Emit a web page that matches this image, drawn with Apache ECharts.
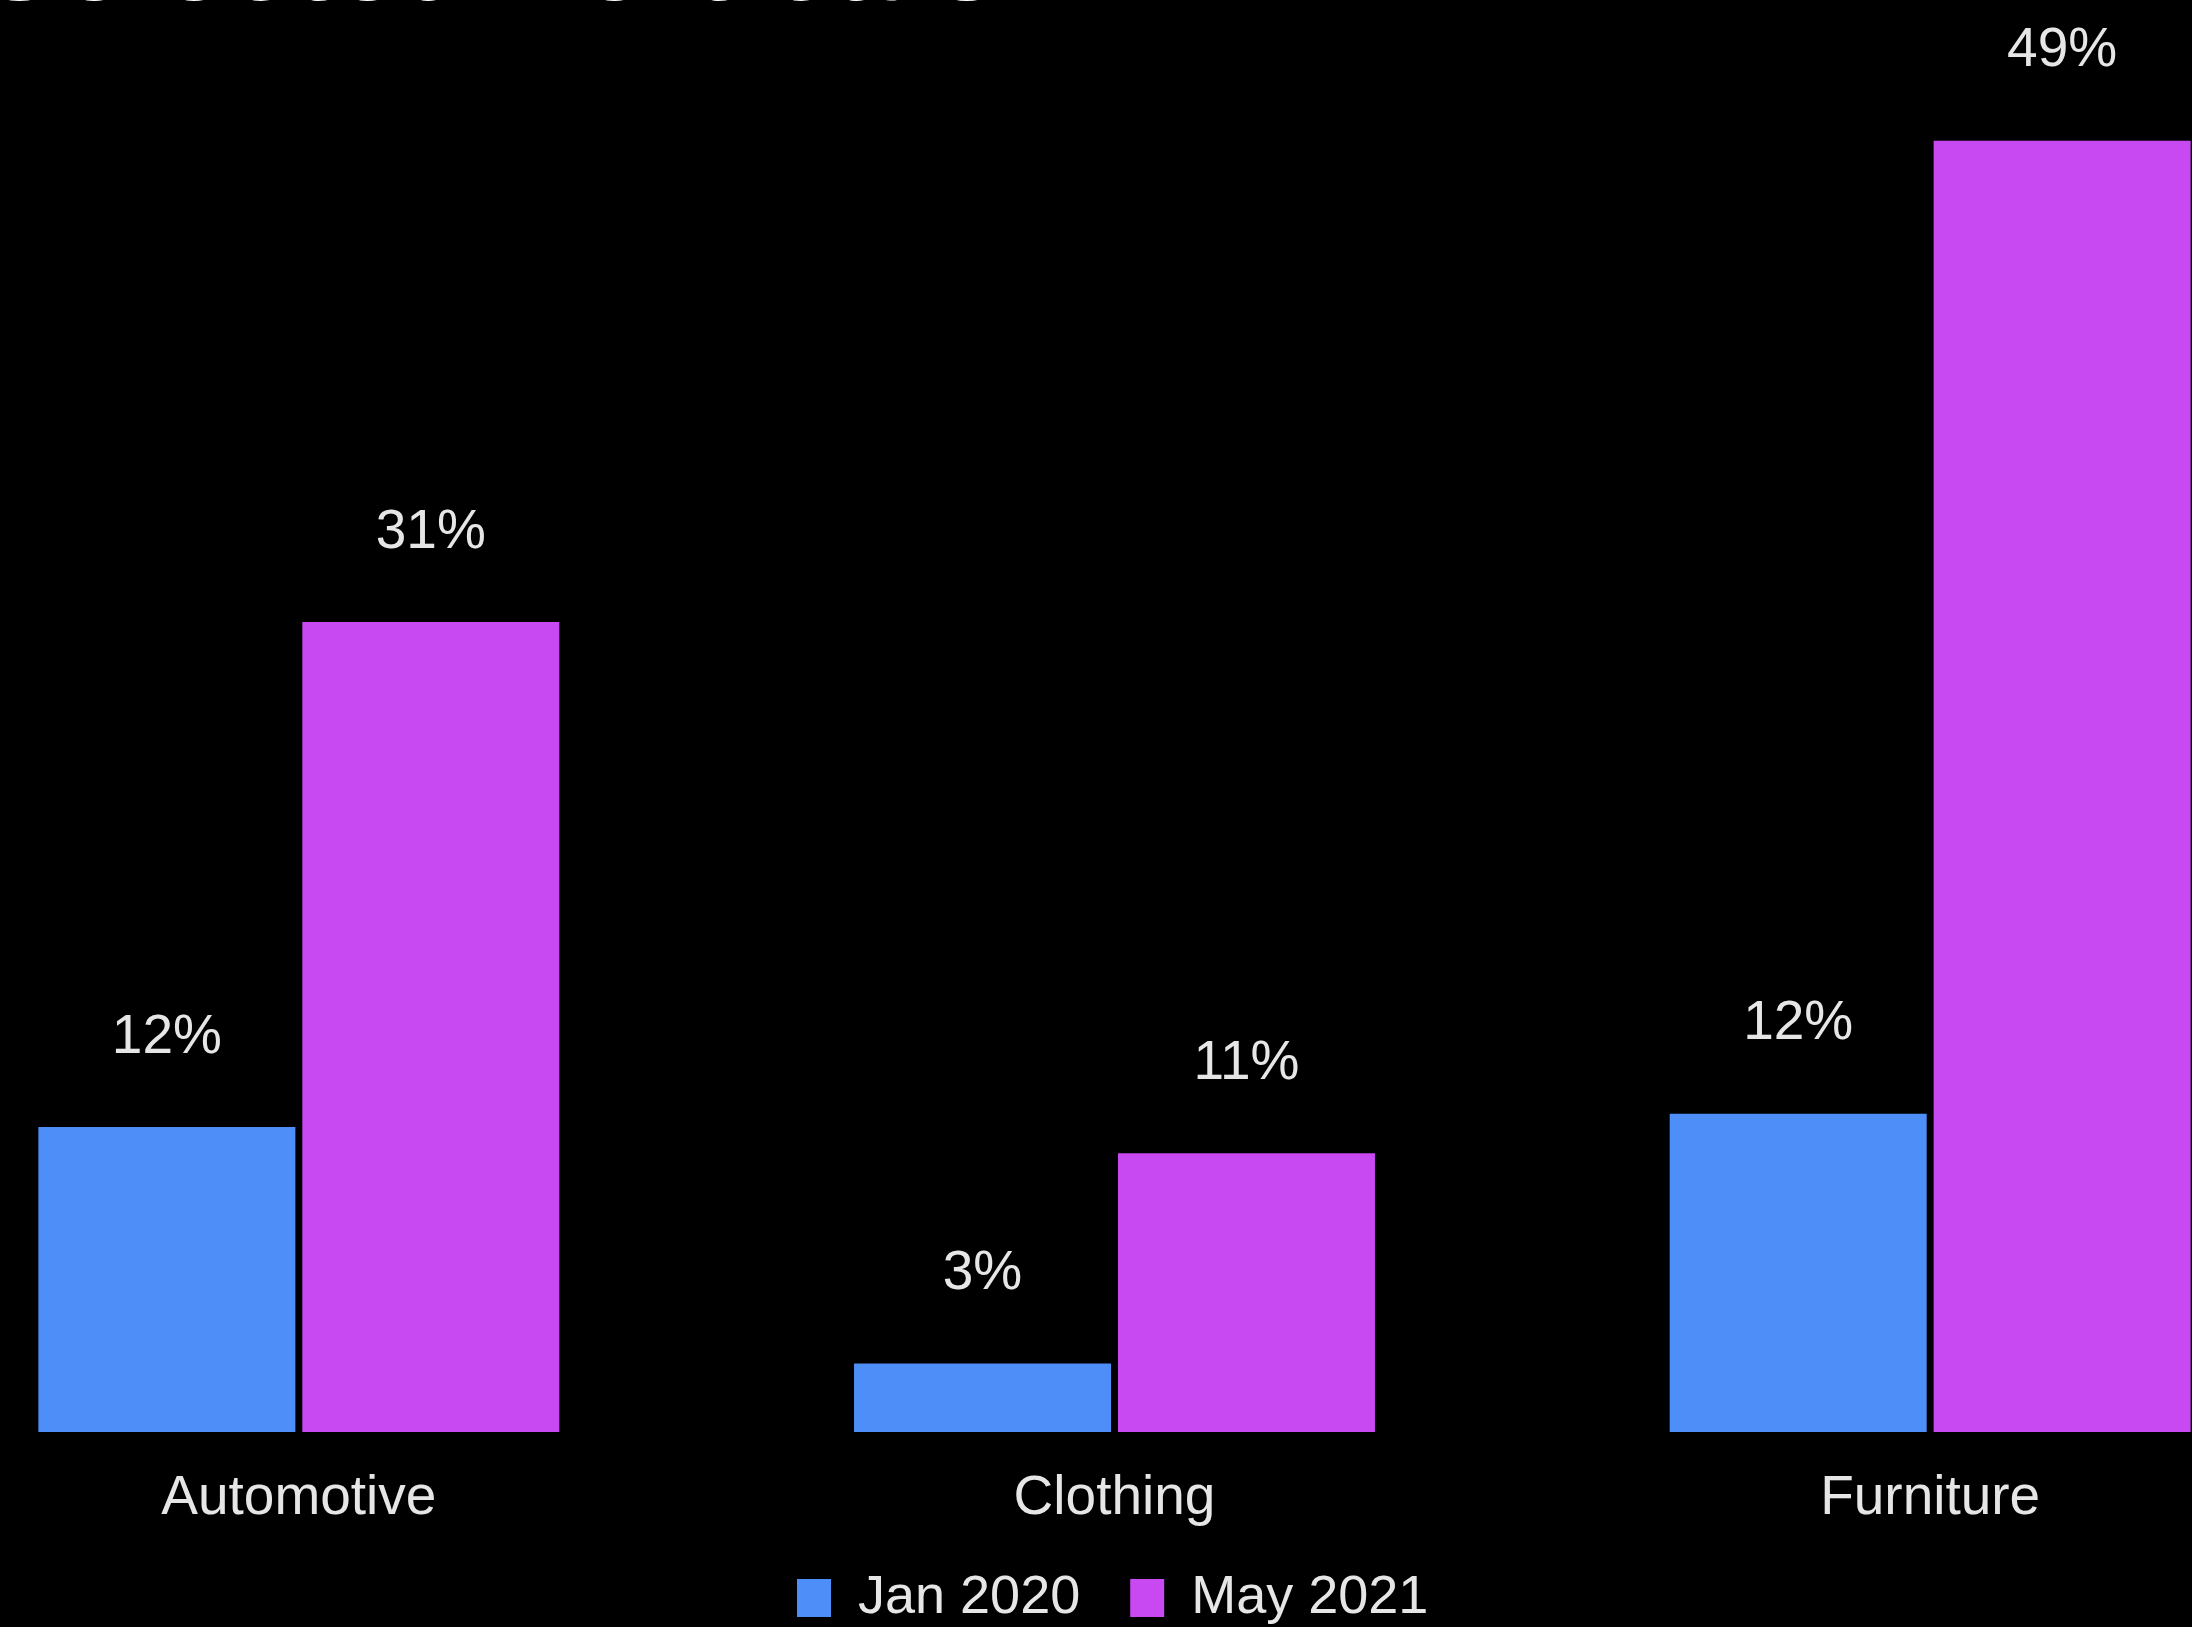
<!DOCTYPE html>
<html>
<head>
<meta charset="utf-8">
<script src="https://cdn.jsdelivr.net/npm/echarts@6/dist/echarts.min.js"></script>
<style>
  html, body { margin: 0; padding: 0; background: #000; }
  #chart { width: 2192px; height: 1627px; }
</style>
</head>
<body>
<div id="chart"></div>
<script>
const titleText = 'Selected Verticals';
const categories = ['Automotive', 'Clothing', 'Furniture'];
const seriesNames = ['Jan 2020', 'May 2021'];
const jan2020 = [11.6, 2.6, 12.1];
const may2021 = [30.8, 10.6, 49.1];
const colors = ['#4E8EF8', '#C848F1'];

const FONT = '"Liberation Sans", Arial, Helvetica, sans-serif';

const chart = echarts.init(document.getElementById('chart'), null, { renderer: 'canvas' });

const labelOpt = {
  show: true,
  position: 'top',
  distance: 62,
  color: '#e6e6e6',
  fontFamily: FONT,
  fontSize: 55,
  formatter: p => Math.round(p.value) + '%'
};

chart.setOption({
  backgroundColor: '#000000',
  animation: false,
  title: {
    text: titleText,
    right: 1192,
    top: -93,
    padding: 0,
    textStyle: { color: '#ffffff', fontFamily: FONT, fontSize: 120, fontWeight: 'bold' }
  },
  legend: {
    data: seriesNames,
    left: 797,
    top: 1571,
    padding: 0,
    itemWidth: 34,
    itemHeight: 38,
    itemGap: 50,
    icon: 'rect',
    textStyle: { color: '#e6e6e6', fontFamily: FONT, fontSize: 54, lineHeight: 38, padding: [0, 0, 0, 22] }
  },
  grid: {
    left: -109,
    right: -146,
    top: 117,
    bottom: 195,
    containLabel: false,
    outerBoundsMode: 'none'
  },
  xAxis: {
    type: 'category',
    data: categories,
    axisLine: { show: false },
    axisTick: { show: false },
    axisLabel: { color: '#e6e6e6', fontFamily: FONT, fontSize: 55, margin: 39 }
  },
  yAxis: {
    type: 'value',
    min: 0,
    max: 50,
    show: false,
    splitLine: { show: false }
  },
  series: [
    {
      name: seriesNames[0],
      type: 'bar',
      data: jan2020,
      itemStyle: { color: colors[0] },
      barWidth: 257,
      barGap: '2.7%',
      label: labelOpt
    },
    {
      name: seriesNames[1],
      type: 'bar',
      data: may2021,
      itemStyle: { color: colors[1] },
      barWidth: 257,
      barGap: '2.7%',
      label: labelOpt
    }
  ]
});
</script>
</body>
</html>
